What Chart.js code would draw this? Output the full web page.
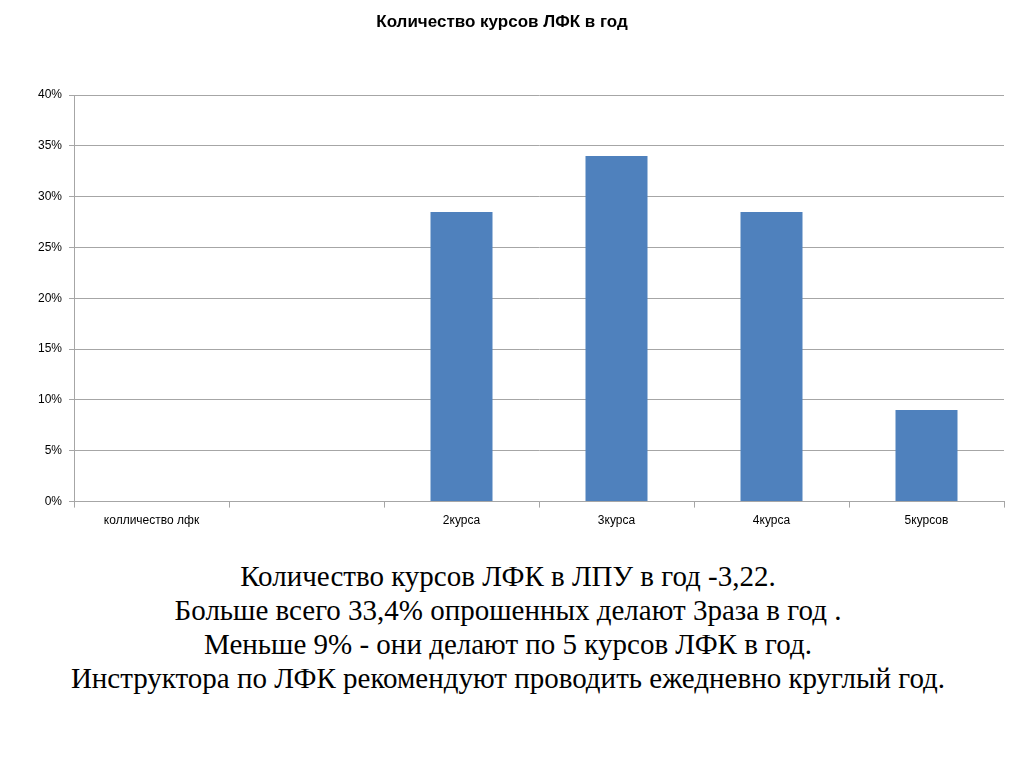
<!DOCTYPE html>
<html>
<head>
<meta charset="utf-8">
<script src="https://cdn.jsdelivr.net/npm/chart.js@4/dist/chart.umd.min.js"></script>
<style>
  html, body { margin: 0; padding: 0; background: #fff; }
  #wrap { position: absolute; left: 0; top: 0; width: 1024px; height: 534px; }
  #notes {
    position: absolute; left: 0; top: 559px; width: 1016px;
    text-align: center; font-family: "Liberation Serif", serif;
    font-size: 29px; line-height: 34px; color: #000;
  }
</style>
</head>
<body>
<div id="wrap"><canvas id="myChart" width="1024" height="534"></canvas></div>
<div id="notes">
  Количество курсов ЛФК в ЛПУ в год -3,22.<br>
  Больше всего 33,4% опрошенных делают 3раза в год .<br>
  Меньше 9% - они делают по 5 курсов ЛФК в год.<br>
  Инструктора по ЛФК рекомендуют проводить ежедневно круглый год.
</div>
<script>
const categories = ['колличество лфк', '', '2курса', '3курса', '4курса', '5курсов'];
const shares = [0, 0, 28.5, 34, 28.5, 9];
const yTicks = [0, 5, 10, 15, 20, 25, 30, 35, 40];

const ctx = document.getElementById('myChart').getContext('2d');

new Chart(ctx, {
  type: 'bar',
  data: {
    labels: categories,
    datasets: [{
      label: 'Количество курсов ЛФК в год',
      data: shares,
      backgroundColor: '#4F81BD',
      borderWidth: 0,
      categoryPercentage: 0.4,
      barPercentage: 1.0
    }]
  },
  options: {
    responsive: false,
    animation: false,
    layout: { padding: { left: 0, right: 20, top: 0, bottom: 0 } },
    plugins: {
      legend: { display: false },
      tooltip: { enabled: false },
      title: {
        display: true,
        text: 'Количество курсов ЛФК в год',
        color: '#000',
        font: { family: 'Liberation Sans', size: 17, weight: 'bold' },
        padding: { top: 12, bottom: 62.6 }
      }
    },
    scales: {
      x: {
        grid: {
          offset: true,
          drawOnChartArea: false,
          drawTicks: true,
          tickLength: 6,
          color: '#a6a6a6'
        },
        border: { color: '#a6a6a6', width: 1 },
        ticks: {
          color: '#000',
          font: { family: 'Liberation Sans', size: 12 },
          padding: 6,
          maxRotation: 0,
          autoSkip: false
        }
      },
      y: {
        min: 0,
        max: 40,
        afterBuildTicks: function(axis) {
          axis.ticks = yTicks.map(v => ({ value: v }));
        },
        afterFit: function(axis) { axis.width = 74; },
        grid: {
          color: '#a6a6a6',
          tickLength: 5,
          drawTicks: true
        },
        border: { color: '#a6a6a6', width: 1 },
        ticks: {
          color: '#000',
          font: { family: 'Liberation Sans', size: 12 },
          padding: 7,
          callback: function(v) { return v + '%'; }
        }
      }
    }
  }
});
</script>
</body>
</html>
